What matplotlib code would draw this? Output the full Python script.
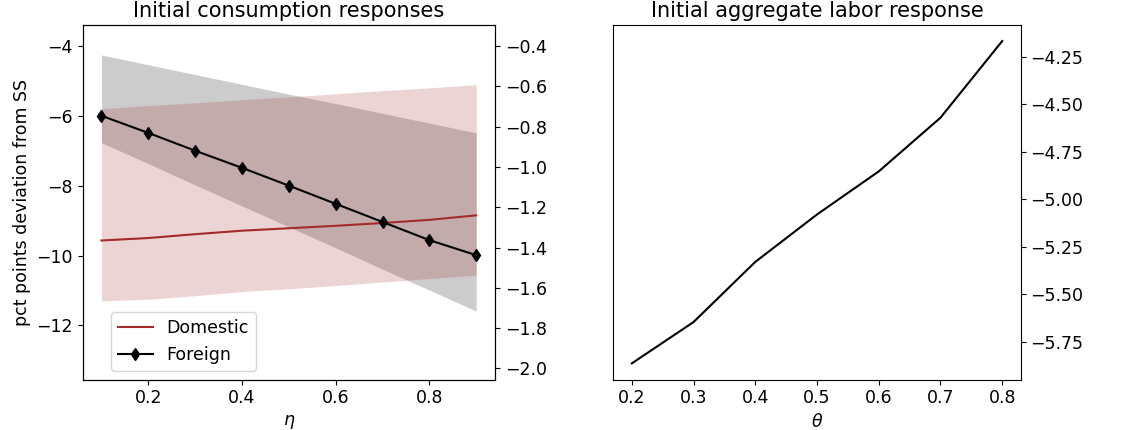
import matplotlib
matplotlib.use("Agg")
import matplotlib.pyplot as plt
import numpy as np

plt.rcParams['font.size'] = 12.5

# left panel: consumption responses vs eta
eta = [0.1, 0.2, 0.3, 0.4, 0.5, 0.6, 0.7, 0.8, 0.9]
dom = [-9.57, -9.50, -9.39, -9.29, -9.22, -9.15, -9.07, -8.98, -8.85]
dom_hi = [-5.80, -5.71, -5.63, -5.54, -5.46, -5.37, -5.28, -5.20, -5.11]
dom_lo = [-11.30, -11.25, -11.15, -11.03, -10.95, -10.86, -10.76, -10.66, -10.56]
frn = [-6.00, -6.49, -7.00, -7.49, -8.00, -8.52, -9.04, -9.56, -9.99]
frn_hi = [-4.26, -4.54, -4.82, -5.10, -5.38, -5.65, -5.93, -6.21, -6.49]
frn_lo = [-6.77, -7.37, -7.98, -8.58, -9.18, -9.78, -10.39, -10.99, -11.59]

# right panel: labor response vs theta
theta = [0.2, 0.3, 0.4, 0.5, 0.6, 0.7, 0.8]
labor = [-5.865, -5.647, -5.33, -5.08, -4.853, -4.57, -4.166]

fig = plt.figure(figsize=(11.28, 4.3), dpi=100)
ax1 = fig.add_axes([0.0733, 0.1174, 0.3655, 0.8246])
ax2 = fig.add_axes([0.5437, 0.1174, 0.3612, 0.8246])

ax1.fill_between(eta, frn_lo, frn_hi, color='k', alpha=0.2, linewidth=0)
ax1.fill_between(eta, dom_lo, dom_hi, color='brown', alpha=0.2, linewidth=0)
ax1.plot(eta, dom, color='brown', label='Domestic')
ax1.plot(eta, frn, color='k', marker='d', markersize=6, label='Foreign')
ax1.set_ylim(-13.55, -3.4)
ax1.set_yticks([-12, -10, -8, -6, -4])
ax1.set_xticks([0.2, 0.4, 0.6, 0.8])
ax1.set_xlabel(r'$\eta$')
ax1.set_ylabel('pct points deviation from SS')
ax1.set_title('Initial consumption responses')
ax1.legend(loc='lower left', bbox_to_anchor=(0.048, 0.0))

tw = ax1.twinx()
tw.set_ylim(-2.055, -0.295)
tw.set_yticks([-2.0, -1.8, -1.6, -1.4, -1.2, -1.0, -0.8, -0.6, -0.4])

ax2.plot(theta, labor, color='k')
ax2.yaxis.tick_right()
ax2.set_yticks([-5.75, -5.5, -5.25, -5.0, -4.75, -4.5, -4.25])
ax2.set_xlabel(r'$\theta$')
ax2.set_title('Initial aggregate labor response')

fig.savefig('out.png', dpi=100)
